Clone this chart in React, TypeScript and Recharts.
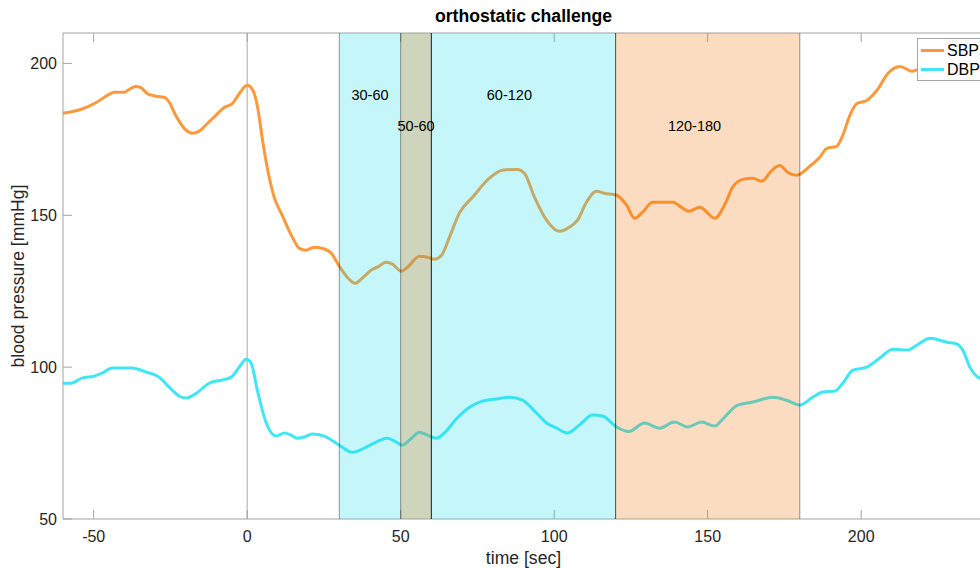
import { LineChart, Line, XAxis, YAxis, ReferenceArea, ReferenceLine, ReferenceDot } from 'recharts';

// time [sec] and systolic pressure [mmHg]
const sbpTime = [-60, -54, -49, -45, -43.4, -40, -38.5, -36.3, -34.6, -32.5, -29.8, -27, -25.4, -23.3, -20.5, -17.8, -15.6, -13, -10.2, -7.5, -4.8, -2.6, 0, 1.7, 3.4, 5, 6.5, 8.8, 11.4, 14.7, 17, 19.2, 21.8, 24.5, 27.4, 30, 32.6, 35.2, 37.5, 40.8, 42.4, 45.3, 47.3, 50.2, 52.2, 56.1, 58.7, 61, 63.3, 65.9, 69.1, 73.4, 78.9, 83.1, 88, 90.3, 93.6, 97.5, 101.7, 105, 107.6, 110.5, 113.8, 116.4, 120.3, 123.6, 126.2, 128.8, 132, 138.6, 141.5, 143.8, 147.4, 152.3, 156.2, 158.1, 161.4, 164.7, 167.6, 170.9, 173.5, 176.1, 179, 183.2, 186.5, 188.8, 192, 194, 196.3, 198.6, 201.8, 205.1, 208.7, 212.6, 216.5, 218.5, 224, 230, 235, 240];
const sbpValues = [183.6, 184.9, 187.2, 189.8, 190.5, 190.5, 191.4, 192.4, 192, 190, 189.2, 188.8, 187.2, 182.9, 178.6, 177, 177.7, 180.2, 182.9, 185.5, 186.8, 190, 192.8, 191.4, 185.5, 174.7, 165.8, 155.9, 150, 142.8, 139.1, 138.5, 139.5, 139.1, 137.5, 133.2, 129.6, 127.6, 129.3, 132.2, 132.9, 134.5, 133.9, 131.6, 132.9, 136.5, 136.2, 135.5, 136.8, 142.8, 150.7, 155.9, 162.2, 164.8, 165.1, 163.8, 155.9, 148.4, 144.7, 146.1, 148.4, 154.3, 157.9, 157.2, 156.6, 153.3, 149, 151, 154.3, 154.3, 152.6, 151.3, 152.6, 149, 154.9, 159.2, 161.8, 162.2, 161.2, 164.8, 166.4, 164.1, 163.2, 166.1, 169.1, 172, 172.7, 176.3, 182.9, 186.8, 187.8, 191.1, 196.7, 199, 197.4, 198, 200, 201, 200, 199];

// diastolic pressure [mmHg]
const dbpTime = [-60, -57.4, -53.8, -49.9, -47.3, -44, -41.1, -37.5, -33, -28.7, -25.4, -22.2, -20, -16.6, -12.4, -8.5, -5.2, -2.6, -0.3, 1.3, 3.3, 6.2, 9.5, 12.1, 14.3, 16.3, 18.6, 21.2, 25.1, 30, 34.2, 37.5, 40.8, 45.6, 48.6, 50.5, 53.5, 56.1, 58.7, 61.6, 64.2, 68.1, 72.4, 76.6, 81.2, 85.4, 89.7, 94.2, 97.5, 100.8, 104.3, 108.2, 112.5, 115.7, 120.3, 124.3, 129.4, 134.3, 139.2, 143.5, 148, 152.3, 154.9, 159.8, 164.7, 171.2, 175.7, 180, 184.2, 187.5, 191.4, 194, 197.3, 201.8, 206.1, 210.3, 214.9, 218.1, 222.4, 227.9, 231.2, 233.1, 235.4, 238, 240];
const dbpValues = [94.7, 94.7, 96.4, 97, 98, 99.7, 99.7, 99.7, 98.4, 96.7, 93.4, 90.5, 89.8, 91.4, 94.7, 95.7, 96.7, 100, 102.6, 101.3, 92.4, 81.6, 77.3, 78.3, 77.6, 76.6, 77, 78, 77.3, 74.3, 72, 73, 74.7, 76.6, 75.3, 74.3, 76.6, 78.6, 77.6, 76.6, 78.3, 82.9, 86.8, 88.8, 89.5, 90.1, 89.1, 84.9, 81.6, 79.9, 78.3, 80.9, 84.2, 83.9, 80.3, 78.8, 81.6, 79.9, 81.9, 80.3, 81.9, 80.6, 82.9, 87.5, 88.5, 90.1, 89.1, 87.5, 90.1, 91.8, 92.1, 94.7, 99, 100, 103, 105.9, 105.6, 107.2, 109.5, 108.2, 107.6, 105.6, 100, 96.7, 96];

// challenge phases [sec]
const phaseStart = [30, 50, 60, 120];
const phaseEnd = [60, 60, 120, 180];
const phaseNames = ['30-60', '50-60', '60-120', '120-180'];
const phaseLabelTime = [40, 55, 85.4, 145.7];
const phaseLabelLevel = [189.5, 179.4, 189.5, 179.4];

const xTicks = [-50, 0, 50, 100, 150, 200];
const yTicks = [50, 100, 150, 200];

const FONT = '"Liberation Sans", Arial, Helvetica, sans-serif';
const SBP_COLOR = '#ff983a';
const DBP_COLOR = '#40e6f6';
const AXIS_COLOR = '#a3a3a3';
const TEXT_COLOR = '#262626';
const blank = () => '';

export default function App() {
  const sbp = sbpTime.map((t, i) => ({ t, v: sbpValues[i] }));
  const dbp = dbpTime.map((t, i) => ({ t, v: dbpValues[i] }));
  const phaseFill = (i: number) => (i % 2 === 0 ? '#17dbeb' : '#ef7303');

  return (
    <div style={{ position: 'fixed', left: 0, top: 0, width: 980, height: 568, overflow: 'hidden', background: '#fff', fontFamily: FONT }}>
      <LineChart width={1000} height={568} margin={{ top: 0, right: 16, bottom: 0, left: 0 }}>
        <XAxis
          xAxisId={0}
          dataKey="t"
          type="number"
          domain={[-60, 240]}
          ticks={xTicks}
          allowDataOverflow
          height={49}
          tickSize={-9}
          tickMargin={21}
          axisLine={{ stroke: AXIS_COLOR }}
          tickLine={{ stroke: AXIS_COLOR }}
          tick={{ fill: TEXT_COLOR, fontSize: 16, fontFamily: FONT }}
          label={{ value: 'time [sec]', position: 'insideBottom', offset: 4, fill: TEXT_COLOR, fontSize: 17.6, fontFamily: FONT }}
        />
        <XAxis
          xAxisId="top"
          orientation="top"
          dataKey="t"
          type="number"
          domain={[-60, 240]}
          ticks={xTicks}
          allowDataOverflow
          height={33}
          tickSize={-9}
          tickFormatter={blank}
          axisLine={{ stroke: AXIS_COLOR }}
          tickLine={{ stroke: AXIS_COLOR }}
          label={{ value: 'orthostatic challenge', position: 'insideTop', offset: 10, fill: '#000', fontSize: 17.6, fontWeight: 'bold', fontFamily: FONT }}
        />
        <YAxis
          yAxisId={0}
          type="number"
          domain={[50, 210]}
          ticks={yTicks}
          allowDataOverflow
          width={63}
          tickSize={-9}
          tickMargin={15}
          axisLine={{ stroke: AXIS_COLOR }}
          tickLine={{ stroke: AXIS_COLOR }}
          tick={{ fill: TEXT_COLOR, fontSize: 16, fontFamily: FONT }}
          label={{ value: 'blood pressure [mmHg]', angle: -90, position: 'insideLeft', offset: 18, fill: TEXT_COLOR, fontSize: 17.6, fontFamily: FONT, style: { textAnchor: 'middle' } }}
        />
        <YAxis
          yAxisId="right"
          orientation="right"
          type="number"
          domain={[50, 210]}
          ticks={yTicks}
          allowDataOverflow
          width={0}
          tickSize={-9}
          tickFormatter={blank}
          axisLine={{ stroke: AXIS_COLOR }}
          tickLine={{ stroke: AXIS_COLOR }}
        />

        <ReferenceLine x={0} stroke="#c4c4c4" strokeWidth={1.5} />

        <Line data={sbp} dataKey="v" name="SBP" type="monotone" stroke={SBP_COLOR} strokeWidth={3} dot={false} activeDot={false} isAnimationActive={false} />
        <Line data={dbp} dataKey="v" name="DBP" type="monotone" stroke={DBP_COLOR} strokeWidth={3} dot={false} activeDot={false} isAnimationActive={false} />

        {/* phases are drawn over the curves, half transparent, like the matlab patches */}
        {phaseStart.map((s, i) => (
          <ReferenceArea key={'a' + i} x1={s} x2={phaseEnd[i]} fill={phaseFill(i)} fillOpacity={0.25} stroke="none" zIndex={650} />
        ))}
        {phaseStart.flatMap((s, i) => [s, phaseEnd[i]]).map((x, i) => (
          <ReferenceLine key={'e' + i} x={x} stroke="#000" strokeOpacity={0.4} strokeWidth={1} zIndex={660} />
        ))}
        {phaseNames.map((name, i) => (
          <ReferenceDot
            key={'l' + i}
            x={phaseLabelTime[i]}
            y={phaseLabelLevel[i]}
            r={0}
            fill="none"
            stroke="none"
            zIndex={700}
            label={{ value: name, position: 'center', fill: '#000', fontSize: 14.5, fontFamily: FONT }}
          />
        ))}
      </LineChart>

      <div style={{ position: 'absolute', left: 917, top: 38, width: 80, height: 39, border: '1px solid #a6a6a6', background: '#fff', fontSize: 16, color: '#000', paddingTop: 2, boxSizing: 'content-box' }}>
        {[['SBP', SBP_COLOR], ['DBP', DBP_COLOR]].map(([name, color]) => (
          <div key={name} style={{ display: 'flex', alignItems: 'center', height: 19 }}>
            <span style={{ display: 'inline-block', width: 23, height: 3, background: color, marginLeft: 3, marginRight: 3 }} />
            <span>{name}</span>
          </div>
        ))}
      </div>
    </div>
  );
}
